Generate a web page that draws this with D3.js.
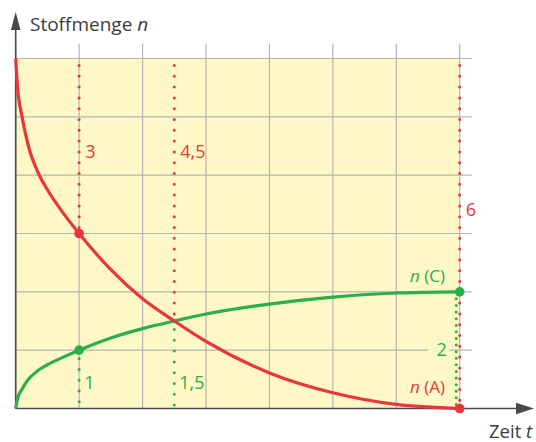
<!DOCTYPE html>
<html>
<head>
<meta charset="utf-8">
<script src="https://cdn.jsdelivr.net/npm/d3@7"></script>
<style>
  body { margin: 0; background: #fff; }
  text { font-family: "Open Sans", sans-serif; }
</style>
</head>
<body>
<div id="chart"></div>
<script>
// Zeit t (Einheiten) und Stoffmengen
const zeit = [0, 0.03, 0.1, 0.2, 0.35, 0.5, 0.75, 1, 1.5, 2, 2.5, 3, 4, 5, 6, 7]
const nA = [6, 5.5, 5.0, 4.5, 4.05, 3.75, 3.35, 3, 2.38, 1.88, 1.5, 1.15, 0.61, 0.27, 0.07, 0]
const nC = [0, 0.17, 0.33, 0.5, 0.65, 0.75, 0.88, 1, 1.21, 1.37, 1.5, 1.62, 1.79, 1.91, 1.98, 2]

// markierte Zeitpunkte
const markT = [1, 2.5, 7]
const markA = [3, 1.5, 0]
const markC = [1, 1.5, 2]
const labelsA = ['3', '4,5', '6']
const labelsC = ['1', '1,5', '2']

const gridT = [0, 1, 2, 3, 4, 5, 6, 7]
const gridN = [0, 1, 2, 3, 4, 5, 6]

const width = 536
const height = 442
const red = '#e9353b'
const green = '#2bae4b'
const yellow = '#fdf8c6'
const gridColor = '#b5b5b5'
const axisColor = '#4a4a4a'

const svg = d3.select('#chart').append('svg')
  .attr('width', width)
  .attr('height', height)

const x = d3.scaleLinear().domain([0, 7]).range([15.7, 459.7])
const y = d3.scaleLinear().domain([0, 6]).range([408.5, 58.5])

// gelber Bereich
svg.append('rect')
  .attr('x', x(0))
  .attr('y', y(6))
  .attr('width', x(7) - x(0))
  .attr('height', y(0) - y(6))
  .attr('fill', yellow)

// Gitter
svg.append('g')
  .selectAll('line')
  .data(gridT)
  .join('line')
  .attr('x1', d => x(d)).attr('x2', d => x(d))
  .attr('y1', y(6) - 15).attr('y2', y(0))
  .attr('stroke', gridColor)
  .attr('stroke-width', 1.2)

svg.append('g')
  .selectAll('line')
  .data(gridN)
  .join('line')
  .attr('x1', x(0)).attr('x2', x(7) + 12)
  .attr('y1', d => y(d)).attr('y2', d => y(d))
  .attr('stroke', gridColor)
  .attr('stroke-width', 1.2)

// Hintergrund für Beschriftung "2"
svg.append('rect')
  .attr('x', x(7) - 32)
  .attr('y', y(markC[2] - 1) - 9)
  .attr('width', 22)
  .attr('height', 18)
  .attr('fill', yellow)

// Achsen
svg.append('line')
  .attr('x1', x(0)).attr('x2', x(0))
  .attr('y1', y(0)).attr('y2', 28)
  .attr('stroke', axisColor).attr('stroke-width', 1.6)
svg.append('path')
  .attr('d', `M${x(0)},12 L${x(0) + 4.8},30 L${x(0) - 4.8},30 Z`)
  .attr('fill', axisColor)

svg.append('line')
  .attr('x1', x(0)).attr('x2', 518)
  .attr('y1', y(0)).attr('y2', y(0))
  .attr('stroke', axisColor).attr('stroke-width', 1.6)
svg.append('path')
  .attr('d', `M534,${y(0)} L516,${y(0) - 5.8} L516,${y(0) + 5.8} Z`)
  .attr('fill', axisColor)

// gepunktete Hilfslinien
const marks = markT.map((t, i) => ({ t, a: markA[i], c: markC[i], la: labelsA[i], lc: labelsC[i], i }))

svg.append('g')
  .selectAll('line')
  .data(marks)
  .join('line')
  .attr('x1', d => x(d.t)).attr('x2', d => x(d.t))
  .attr('y1', y(6) + 7).attr('y2', d => y(d.a))
  .attr('stroke', red)
  .attr('stroke-width', 3)
  .attr('stroke-linecap', 'round')
  .attr('stroke-dasharray', '0,10.8')

svg.append('g')
  .selectAll('line')
  .data(marks)
  .join('line')
  .attr('x1', d => x(d.t) - (d.i === 2 ? 3.5 : 0))
  .attr('x2', d => x(d.t) - (d.i === 2 ? 3.5 : 0))
  .attr('y1', d => y(d.c) + (d.i === 2 ? 7 : 8.5))
  .attr('y2', y(0))
  .attr('stroke', green)
  .attr('stroke-width', 3)
  .attr('stroke-linecap', 'round')
  .attr('stroke-dasharray', d => d.i === 2 ? '0,6.6' : '0,10.8')

// Kurven
const line = d3.line()
  .x(d => x(d[0]))
  .y(d => y(d[1]))
  .curve(d3.curveMonotoneX)

svg.append('path')
  .attr('d', line(zeit.map((t, i) => [t, nC[i]])))
  .attr('fill', 'none')
  .attr('stroke', green)
  .attr('stroke-width', 3.2)

svg.append('path')
  .attr('d', line(zeit.map((t, i) => [t, nA[i]])))
  .attr('fill', 'none')
  .attr('stroke', red)
  .attr('stroke-width', 3.2)

// Punkte
svg.append('g')
  .selectAll('circle')
  .data(marks.filter(d => d.i !== 1))
  .join('circle')
  .attr('cx', d => x(d.t))
  .attr('cy', d => y(d.c))
  .attr('r', 4.8)
  .attr('fill', green)

svg.append('g')
  .selectAll('circle')
  .data(marks.filter(d => d.i !== 1))
  .join('circle')
  .attr('cx', d => x(d.t))
  .attr('cy', d => y(d.a))
  .attr('r', 4.8)
  .attr('fill', red)

// Beschriftungen an den Hilfslinien
svg.append('g')
  .selectAll('text')
  .data(marks)
  .join('text')
  .attr('x', d => x(d.t) + 6)
  .attr('y', d => d.i === 2 ? 216 : 158)
  .attr('fill', red)
  .attr('font-size', 18)
  .text(d => d.la)

svg.append('g')
  .selectAll('text')
  .data(marks)
  .join('text')
  .attr('x', d => d.i === 2 ? x(d.t) - 18 : x(d.t) + 5)
  .attr('y', d => d.i === 2 ? y(d.c - 1) + 6 : 388.5)
  .attr('text-anchor', d => d.i === 2 ? 'middle' : 'start')
  .attr('fill', green)
  .attr('font-size', 18)
  .text(d => d.lc)

// Kurvenbeschriftungen
const nLabel = (txt, color, yy) => {
  const t = svg.append('text')
    .attr('x', 445)
    .attr('y', yy)
    .attr('text-anchor', 'end')
    .attr('fill', color)
    .attr('font-size', 17)
  t.append('tspan').attr('font-style', 'italic').text('n')
  t.append('tspan').text(' ' + txt)
}
nLabel('(C)', green, 282)
nLabel('(A)', red, 393)

// Achsentitel
const yTitle = svg.append('text')
  .attr('x', 30).attr('y', 31)
  .attr('fill', '#3d3d3d')
  .attr('font-size', 19)
yTitle.append('tspan').text('Stoffmenge ')
yTitle.append('tspan').attr('font-style', 'italic').text('n')

const xTitle = svg.append('text')
  .attr('x', 489).attr('y', 438)
  .attr('fill', '#3d3d3d')
  .attr('font-size', 18.5)
xTitle.append('tspan').text('Zeit ')
xTitle.append('tspan').attr('font-style', 'italic').text('t')
</script>
</body>
</html>
